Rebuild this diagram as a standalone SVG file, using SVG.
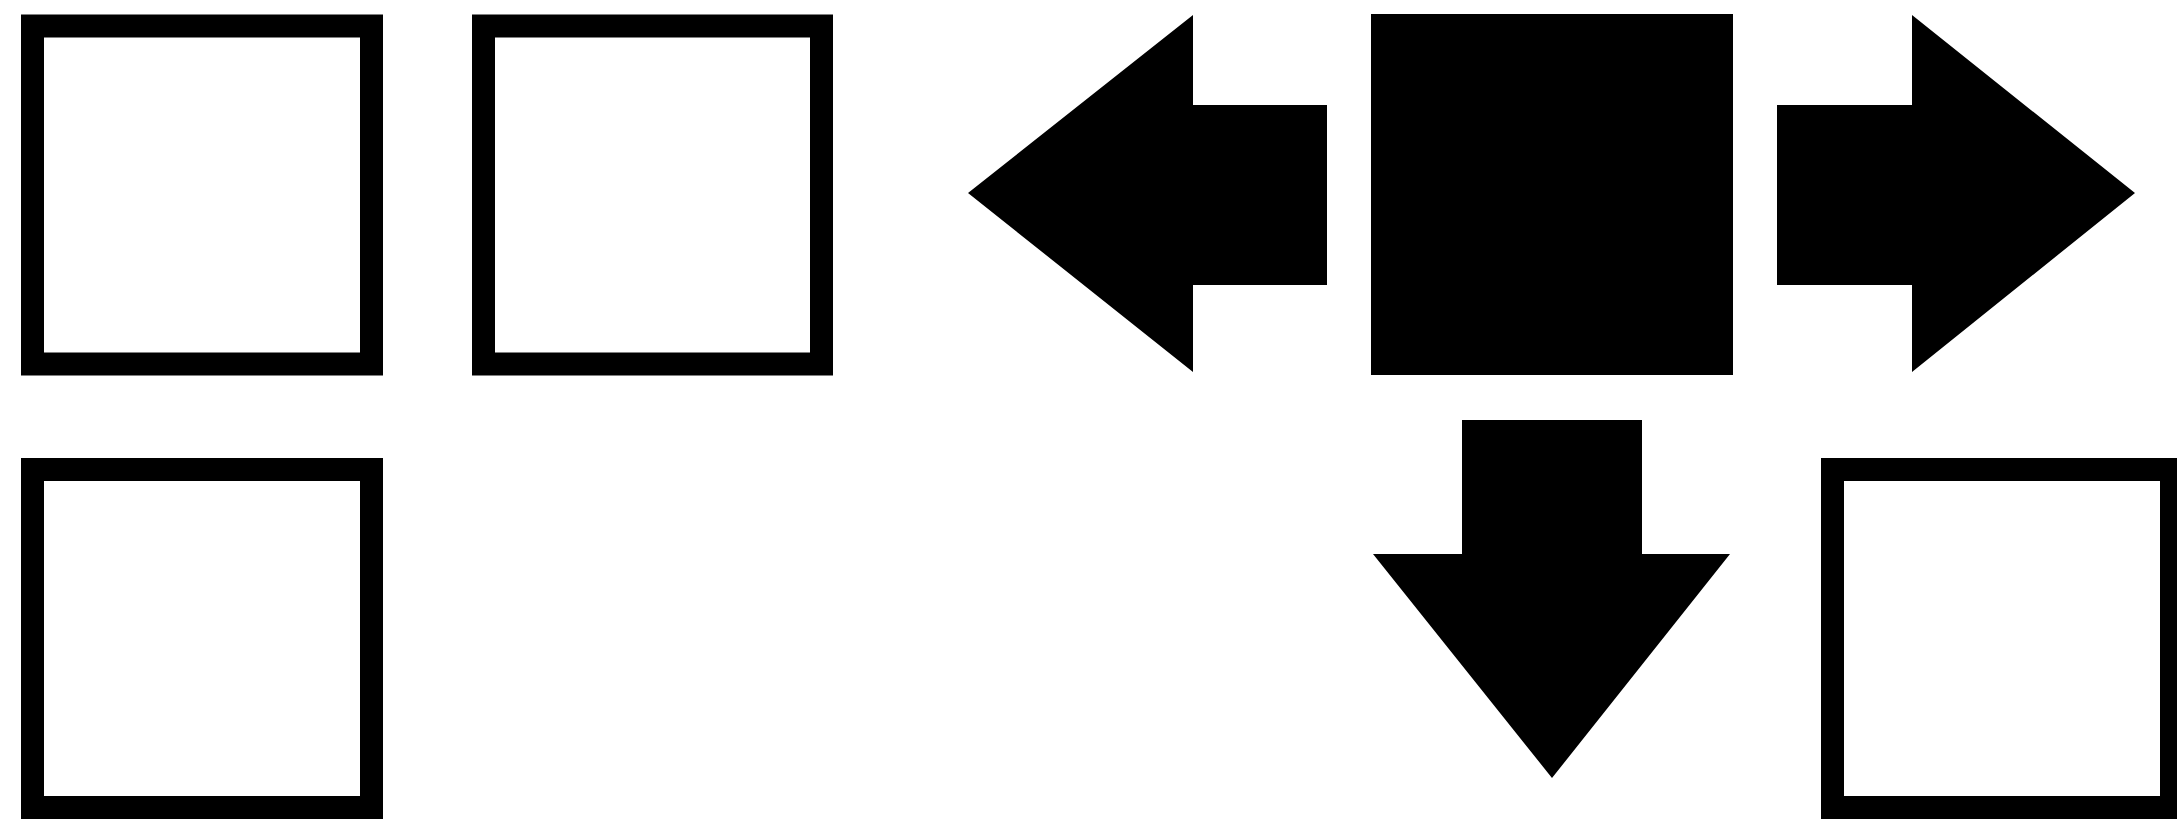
<svg xmlns="http://www.w3.org/2000/svg" width="2177" height="822" viewBox="0 0 2177 822">
<style>
.box{fill:#ffffff;stroke:#000000;stroke-width:23}
.solid{fill:#000000;stroke:none}
</style>
<rect width="2177" height="822" fill="#ffffff"/>
<g id="box-top-left"><rect class="box" x="32.5" y="26" width="339" height="338"/></g>
<g id="box-top-second"><rect class="box" x="483.5" y="26" width="338" height="338"/></g>
<g id="box-bottom-left"><rect class="box" x="32.5" y="469.5" width="339" height="338"/></g>
<g id="box-bottom-right"><rect class="box" x="1832.5" y="469.5" width="339" height="338"/></g>
<g id="center-block"><rect class="solid" x="1371" y="14" width="362" height="361"/></g>
<g id="connectors">
<polygon id="arrow-left" class="solid" points="968,193 1193,15 1193,105 1327,105 1327,285 1193,285 1193,372"/>
<polygon id="arrow-right" class="solid" points="2135,193 1912,15 1912,105 1777,105 1777,285 1912,285 1912,372"/>
<polygon id="arrow-down" class="solid" points="1462,420 1642,420 1642,554 1730,554 1552,778 1373,554 1462,554"/>
</g>
</svg>
